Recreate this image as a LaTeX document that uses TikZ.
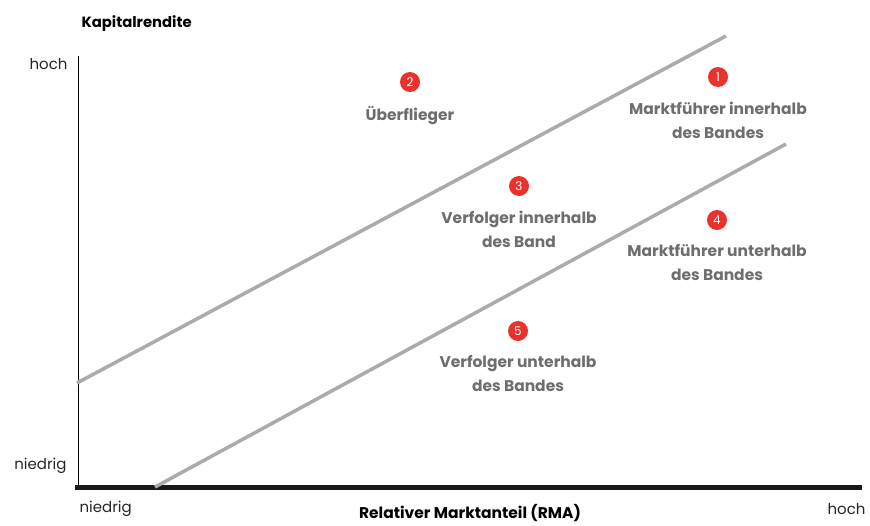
\documentclass[tikz,border=0pt]{standalone}
\usepackage{fontspec}
\setmainfont{Poppins}
\usetikzlibrary{positioning}
\definecolor{bandgray}{HTML}{ABABAB}
\definecolor{labelgray}{HTML}{6D6E70}
\definecolor{markred}{HTML}{E8322B}

\begin{document}
\begin{tikzpicture}[x=1pt, y=-1pt, font=\fontsize{15}{17}\selectfont,
    band/.style={line width=3.5pt, bandgray},
    num/.style={circle, fill=markred, text=white, inner sep=0pt,
                minimum size=20pt, font=\fontsize{12}{12}\selectfont},
    quad/.style={text=labelgray, align=center,
                 font=\fontsize{15.5}{24}\selectfont\bfseries},
    tick/.style={text=black!85, font=\fontsize{15}{17}\selectfont}]
  \useasboundingbox (0,0) rectangle (870,525);

  %% Axes
  \coordinate (origin) at (78,487);
  \coordinate (ytop)   at (78,56);
  \coordinate (xstart) at (75,487);
  \coordinate (xend)   at (862,487);
  \draw[line width=1pt, black] (origin) -- (ytop);
  \draw[line width=5pt, black!90] (xstart) -- (xend);

  \node[anchor=west, font=\fontsize{14.8}{17}\selectfont\bfseries]
       (ylab) at (78,24) {Kapitalrendite};
  \node[anchor=north, font=\fontsize{15.5}{17}\selectfont\bfseries]
       (xlab) at (470,501) {Relativer Marktanteil (RMA)};
  \node[tick, anchor=east] (yhigh) at (71,64)  {hoch};
  \node[tick, anchor=east] (ylow)  at (70,466) {niedrig};
  \node[tick, anchor=west] (xlow)  at (76,509) {niedrig};
  \node[tick, anchor=east] (xhigh) at (869,509) {hoch};

  %% Band lines
  \coordinate (ua) at (77,383);
  \coordinate (ub) at (726,36);
  \coordinate (la) at (155,487);
  \coordinate (lb) at (786,144);
  \draw[band] (ua) -- (ub);
  \draw[band] (la) -- (lb);

  %% Quadrant markers
  \node[num] (n1) at (718,77)  {1};
  \node[num] (n2) at (410,82)  {2};
  \node[num] (n3) at (519,186) {3};
  \node[num] (n4) at (717,220) {4};
  \node[num] (n5) at (518,331) {5};

  \node[quad, below=11pt of n1] (q1) {Marktführer innerhalb\\des Bandes};
  \node[quad, below=11pt of n2] (q2) {Überflieger};
  \node[quad, below=11pt of n3] (q3) {Verfolger innerhalb\\des Band};
  \node[quad, below=11pt of n4] (q4) {Marktführer unterhalb\\des Bandes};
  \node[quad, below=11pt of n5] (q5) {Verfolger unterhalb\\des Bandes};
\end{tikzpicture}
\end{document}
